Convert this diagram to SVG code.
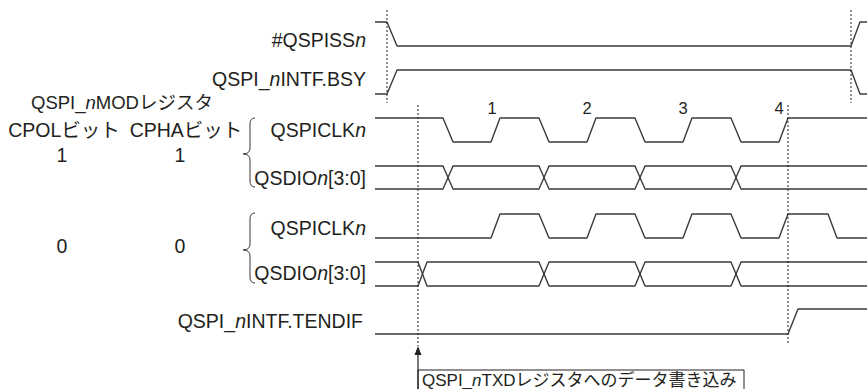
<svg xmlns="http://www.w3.org/2000/svg" width="867" height="389" viewBox="0 0 867 389">
<style>
text{font-family:"Liberation Sans","Noto Sans CJK JP",sans-serif;fill:#231f20;font-size:19.5px}
.r{text-anchor:end}
.m{text-anchor:middle}
.i{font-style:italic}
.sig{fill:none;stroke:#3a3a3a;stroke-width:1.4;stroke-linejoin:round}
.br{fill:none;stroke:#3a3a3a;stroke-width:1}
.dash{fill:none;stroke:#231f20;stroke-width:1;stroke-dasharray:2,2}
.num{font-size:16.5px}
</style>
<g id="labels-left">
<text x="122" y="109" class="m" style="font-size:18.5px">QSPI_<tspan class="i">n</tspan>MODレジスタ</text>
<text x="64" y="137" class="m">CPOLビット</text>
<text x="186" y="137" class="m">CPHAビット</text>
<text x="62" y="162" class="m">1</text>
<text x="180" y="162" class="m">1</text>
<text x="62" y="253" class="m">0</text>
<text x="180" y="253" class="m">0</text>
</g>
<g id="braces">
<path class="br" d="M255,118 Q250,118 250,124 L250,148 Q250,154 243,154 Q250,154 250,160 L250,181 Q250,187 255,187"/>
<path class="br" d="M255,213 Q250,213 250,219 L250,244 Q250,250 243,250 Q250,250 250,256 L250,277 Q250,283 255,283"/>
</g>
<g id="sig-ss">
<text x="366" y="47" class="r">#QSPISS<tspan class="i">n</tspan></text>
<path class="sig" d="M375,22 L387,22 L397,46 L851,46 L860,22 L867,22"/>
</g>
<g id="sig-bsy">
<text x="366" y="86" class="r">QSPI_<tspan class="i">n</tspan>INTF.BSY</text>
<path class="sig" d="M375,94 L387,94 L397,70 L851,70 L860,94 L867,94"/>
</g>
<g id="sig-clk1">
<text x="366" y="137" class="r">QSPICLK<tspan class="i">n</tspan></text>
<path class="sig" d="M375,118 L443,118 L453,142 L491,142 L500,118 L539,118 L549,142 L587,142 L596,118 L635,118 L645,142 L683,142 L692,118 L731,118 L741,142 L779,142 L788,118 L867,118"/>
</g>
<g id="sig-dio1">
<text x="366" y="185" class="r">QSDIO<tspan class="i">n</tspan>[3:0]</text>
<path class="sig" d="M375,166 L443,166 L453,189 L539,189 L549,166 L635,166 L645,189 L731,189 L741,166 L867,166"/>
<path class="sig" d="M375,189 L443,189 L453,166 L539,166 L549,189 L635,189 L645,166 L731,166 L741,189 L867,189"/>
</g>
<g id="sig-clk2">
<text x="366" y="235" class="r">QSPICLK<tspan class="i">n</tspan></text>
<path class="sig" d="M375,238 L491,238 L500,214 L539,214 L549,238 L587,238 L596,214 L635,214 L645,238 L683,238 L692,214 L731,214 L741,238 L779,238 L788,214 L828,214 L837,238 L867,238"/>
</g>
<g id="sig-dio2">
<text x="366" y="280" class="r">QSDIO<tspan class="i">n</tspan>[3:0]</text>
<path class="sig" d="M375,262 L418,262 L427,286 L539,286 L549,262 L635,262 L645,286 L731,286 L741,262 L867,262"/>
<path class="sig" d="M375,286 L418,286 L427,262 L539,262 L549,286 L635,286 L645,262 L731,262 L741,286 L867,286"/>
</g>
<g id="sig-tendif">
<text x="363" y="328" class="r">QSPI_<tspan class="i">n</tspan>INTF.TENDIF</text>
<path class="sig" d="M375,334 L788,334 L798,309 L867,309"/>
</g>
<g id="clock-numbers">
<text x="492" y="114" class="m num">1</text>
<text x="587" y="114" class="m num">2</text>
<text x="683" y="114" class="m num">3</text>
<text x="779" y="114" class="m num">4</text>
</g>
<g id="connectors">
<line class="dash" x1="387" y1="10" x2="387" y2="103"/>
<line class="dash" x1="851" y1="10" x2="851" y2="103"/>
<line class="dash" x1="788" y1="105" x2="788" y2="345"/>
<line class="dash" x1="418" y1="105" x2="418" y2="346"/>
<line x1="418" y1="389" x2="418" y2="354" stroke="#231f20" stroke-width="1.2"/>
<polygon points="418,346 414.5,355 421.5,355" fill="#231f20"/>
</g>
<g id="note">
<path d="M418,389 L418,370 L744,370 L744,389" fill="none" stroke="#231f20" stroke-width="1"/>
<text x="422" y="386" style="font-size:17px">QSPI_<tspan class="i">n</tspan>TXDレジスタへのデータ書き込み</text>
</g>
</svg>
